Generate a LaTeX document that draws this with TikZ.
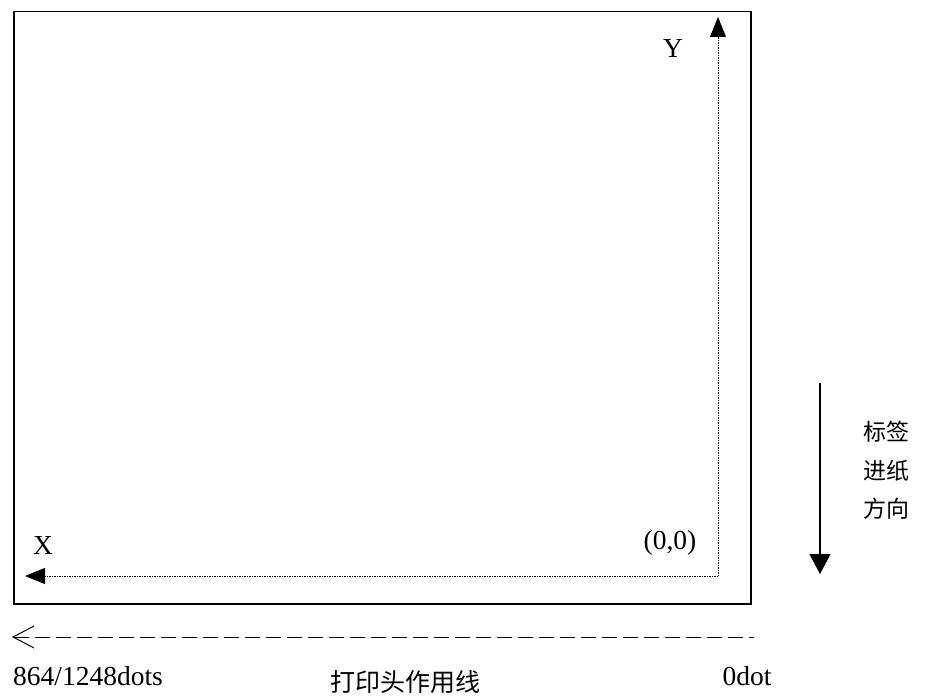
\documentclass[tikz,border=0pt]{standalone}
\usepackage{fontspec}
\setmainfont{Liberation Serif}
\newfontfamily\cjk{Noto Sans CJK SC}
\usetikzlibrary{arrows.meta}
\begin{document}
\begin{tikzpicture}[x=1pt,y=-1pt,
  lbl/.style={inner sep=0pt,font=\fontsize{27.5}{32}\selectfont},
  cjklbl/.style={inner sep=0pt,font=\cjk\fontsize{23}{27}\selectfont},
  dotline/.style={line width=1pt,dash pattern=on 1.2pt off 1.3pt,-{Triangle[length=20pt,width=16pt]}},
  feed/.style={line width=1.2pt,-{Triangle[length=20pt,width=21pt]}},
  head/.style={line width=0.9pt,dash pattern=on 15pt off 6pt,{Straight Barb[length=21pt,width=22pt,line width=1pt]}-}]
\useasboundingbox (0,0) rectangle (927,698);
\node[draw,line width=1.5pt,minimum width=737pt,minimum height=592pt,inner sep=0pt,anchor=north west] (label) at (13,11) {};
\coordinate (origin) at (718,576);
\coordinate (ytip) at (718,17);
\coordinate (xtip) at (25,576);
\draw[dotline] (origin) -- (ytip);
\draw[dotline] (origin) -- (xtip);
\node[lbl] (ylab) at (673,48) {Y};
\node[lbl] (xlab) at (43,545) {X};
\node[lbl] (olab) at (670,543) {(0,0)};
\coordinate (fs) at (820,383);
\coordinate (fe) at (820,574);
\draw[feed] (fs) -- (fe);
\node[cjklbl] (t1) at (886,432) {标签};
\node[cjklbl] (t2) at (886,471) {进纸};
\node[cjklbl] (t3) at (886,509) {方向};
\coordinate (hs) at (754,637);
\coordinate (he) at (12,637);
\draw[head] (he) -- (hs);
\node[lbl,anchor=base west] (left) at (13,685) {864/1248dots};
\node[lbl,anchor=base] (right) at (747,685) {0dot};
\node[cjklbl,font=\cjk\fontsize{25}{29}\selectfont] (mid) at (405,682) {打印头作用线};
\end{tikzpicture}
\end{document}
